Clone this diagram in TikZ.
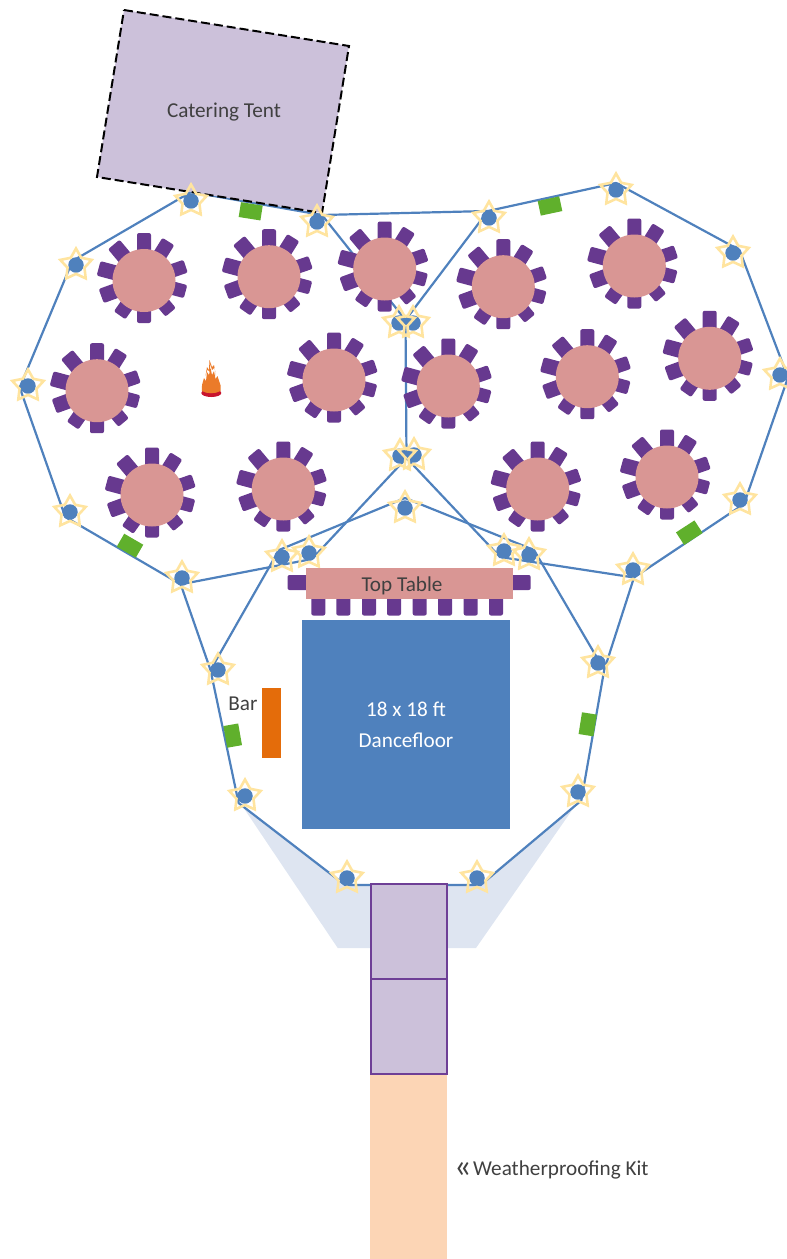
\documentclass[tikz,border=0pt]{standalone}
\usepackage{fontspec}
\setmainfont{Carlito}
\usetikzlibrary{shapes.geometric}
\definecolor{chairc}{HTML}{67398F}
\definecolor{tablec}{HTML}{D99694}
\definecolor{linec}{HTML}{4F81BD}
\definecolor{starc}{HTML}{FFE49F}
\definecolor{tentc}{HTML}{CCC1DA}
\definecolor{greenc}{HTML}{60B02C}
\definecolor{washc}{HTML}{DEE5F1}
\definecolor{peachc}{HTML}{FCD5B5}
\definecolor{orangec}{HTML}{E46C0A}
\definecolor{boxedge}{HTML}{6E3F96}
\definecolor{textc}{HTML}{404040}
\definecolor{flamec}{HTML}{EB7B2A}
\definecolor{firebase}{HTML}{C8142E}
\tikzset{
  wire/.style={draw=linec,line width=2.2pt,line join=round},
  chairbox/.style={fill=chairc,rounded corners=2pt},
  tablebox/.style={circle,fill=tablec,minimum size=63pt,inner sep=0pt,outer sep=0pt},
  polec/.style={circle,fill=linec,minimum size=15.5pt,inner sep=0pt,outer sep=0pt},
  starr/.style={star,star points=5,star point ratio=1.85,draw=starc,line width=2.6pt,minimum size=33pt,inner sep=0pt,outer sep=0pt},
  heater/.style={rectangle,fill=greenc,minimum width=22pt,minimum height=15pt,inner sep=0pt,outer sep=0pt},
  label/.style={text=textc,font=\fontsize{21.2}{25}\selectfont,inner sep=0pt},
  flat/.style={inner sep=0pt,outer sep=0pt,rectangle},
}
\newcommand{\banq}[3]{%
  \begin{scope}[shift={(#2,#3)}]
    \foreach \a/\o/\w in {90/47.5/14,58/46/14,19/44/13.5,-15/43/13.5,-50/41.5/13.5,-90/42.5/14,-125/42.5/14,200/45.5/15,165/47/15,130/47/15}{
      \fill[chairbox,rotate=\a] (24,-\w/2) rectangle (\o,\w/2);
    }
    \node[tablebox] (#1) at (0,0) {};
  \end{scope}}
\newcommand{\starnode}[3]{\node[starr] (s#1) at (#2,#3) {};}
\begin{document}
\begin{tikzpicture}[x=1pt,y=-1pt]
\useasboundingbox (0,0) rectangle (787,1259);
% wash
\fill[washc] (241.7,805) -- (337.7,948) -- (476,948) -- (577,803) -- (480.7,885) -- (345,885) -- cycle;
% named corners of the wire runs
\coordinate (va) at (191,192);
\coordinate (vb) at (72.5,261);
\coordinate (vc) at (19.7,387.5);
\coordinate (vd) at (65.3,517);
\coordinate (ve) at (180.7,584.3);
\coordinate (vf) at (210.5,670);
\coordinate (vg) at (238.6,803);
\coordinate (vh) at (345,885);
\coordinate (vi) at (480.7,885);
\coordinate (vj) at (581.3,800.5);
\coordinate (vk) at (604.2,670);
\coordinate (vl) at (634,577.5);
\coordinate (vm) at (744,504);
\coordinate (vn) at (788,377.5);
\coordinate (vo) at (739.5,250);
\coordinate (vq) at (616,183);
\coordinate (vr) at (488,211);
\coordinate (vt) at (322,215);
\coordinate (vup) at (405.5,320);
\coordinate (vlow) at (406.5,458);
\coordinate (vmid) at (405,498);
\coordinate (bl1) at (279,550);
\coordinate (bl2) at (312,559);
\coordinate (br1) at (534,550);
\coordinate (br2) at (500,557);
% wires
\draw[wire] (va) -- (vb) -- (vc) -- (vd) -- (ve) -- (vf) -- (vg) -- (vh) -- (vi) -- (vj) -- (vk) -- (vl) -- (vm) -- (vn) -- (vo) -- (vq) -- (vr) -- (vt) -- cycle;
\draw[wire] (vt) -- (vup) -- (vr);
\draw[wire] (vup) -- (vlow);
\draw[wire] (vf) -- (bl1) -- (vmid) -- (br1) -- (vk);
\draw[wire] (ve) -- (bl2) -- (vlow) -- (br2) -- (vl);
% tent
\filldraw[fill=tentc,draw=black,line width=2pt,dash pattern=on 9pt off 4pt] (124,10) -- (349,46) -- (322,213) -- (97,177) -- cycle;
\node[label] (tent) at (224,112) {Catering Tent};
% tables
\banq{t1}{144}{280.5}\banq{t2}{269}{276.7}\banq{t3}{384.7}{269}\banq{t4}{503.3}{286.7}
\banq{t5}{634.3}{266}\banq{t6}{97}{390.7}\banq{t7}{334}{380}\banq{t8}{448.3}{386}
\banq{t9}{587.3}{376.7}\banq{t10}{709.7}{358.3}\banq{t11}{152}{495}\banq{t12}{283.3}{489}
\banq{t13}{537.7}{489}\banq{t14}{667}{477}
% poles and stars
\foreach \n/\x/\y in {a/191/201,b/76/265,c/28/386,d/70/512,e/182/578,f/218/670,g/245/796,h/347/878,i/477/878,j/578/792,k/598/663,l/633/570,m/740/500,n/780/375,o/733/253,q/616/190,r/489/218,t/317/222,u/399/323,v/413/323,w/400/456,x/414/455,y/405/508,z/282/557,za/309/553,zb/504/551,zc/529/555}{
  \node[polec] (\n) at (\x,\y) {};
}
\foreach \n/\x/\y in {a/191/201,b/76/265,c/28/386,d/70/512,e/182/578,f/218/670,g/245/796,h/347/878,i/477/878,j/578/792,k/598/663,l/633/570,m/740/500,n/780/375,o/733/253,q/616/190,r/489/218,t/317/222,u/399/323,v/413/323,w/400/456,x/414/455,y/405/508,z/282/557,za/309/553,zb/504/551,zc/529/555}{
  \starnode{\n}{\x}{\y}
}
% heaters
\node[heater,rotate=-9] (h1) at (250.7,211.3) {};
\node[heater,rotate=12] (h2) at (550,206) {};
\node[heater,rotate=-30] (h3) at (130,545.7) {};
\node[heater,rotate=33] (h4) at (689.3,532.7) {};
\node[heater,rotate=-80] (h5) at (232.7,735.6) {};
\node[heater,rotate=81] (h6) at (587.7,724.3) {};
% top table
\foreach \x in {318.3,343.3,369,394,419.7,445,470.7,496}{
  \fill[chairbox] (\x-7,595) rectangle (\x+7,615.5);
}
\fill[chairbox] (287.5,575) rectangle (312,590);
\fill[chairbox] (506,575) rectangle (530.7,590);
\node[flat,fill=tablec,minimum width=207pt,minimum height=31pt] (top) at (409.5,583.5) {};
\node[label] (topl) at (402,585.5) {Top Table};
% dancefloor
\node[flat,fill=linec,minimum width=208pt,minimum height=209pt] (floor) at (406,724.5) {};
\node[label,text=white] (fl1) at (406,709.5) {18 x 18 ft};
\node[label,text=white] (fl2) at (406,740) {Dancefloor};
% bar
\node[flat,fill=orangec,minimum width=19pt,minimum height=70pt] (bar) at (271.5,723) {};
\node[label] (barl) at (243,704) {Bar};
% walkway
\node[flat,fill=peachc,minimum width=77pt,minimum height=185pt] (kit) at (408.5,1166.5) {};
\node[flat,fill=tentc,draw=boxedge,line width=2pt,minimum width=76pt,minimum height=95pt] (box1) at (408.7,931.5) {};
\node[flat,fill=tentc,draw=boxedge,line width=2pt,minimum width=76pt,minimum height=95pt] (box2) at (408.7,1026.5) {};
\node[label,anchor=base west] (kitl) at (454,1175) {\raisebox{-2.5pt}{\fontsize{34}{34}\selectfont «}\kern1.5pt Weatherproofing Kit};
% fire
\fill[firebase] (211.3,393) ellipse (10 and 4);
\fill[flamec] (202,391) .. controls (201,386) and (203,382) .. (204,378) -- (206,381) -- (207,372) -- (209,375) -- (210.5,368) -- (212,375) -- (214,371) -- (215.5,379) -- (217.5,376) -- (220.5,385) -- (220.5,391) .. controls (215,394) and (207,394) .. (202,391) -- cycle;
\fill[flamec] (205.5,376) -- (207,367) -- (209,370) -- (209.5,360) -- (212,367) -- (214,365) -- (216,376) -- (214.5,367.5) -- (212,370) -- (210.3,364) -- (209.7,372) -- (207.5,369.5) -- cycle;
\end{tikzpicture}
\end{document}
